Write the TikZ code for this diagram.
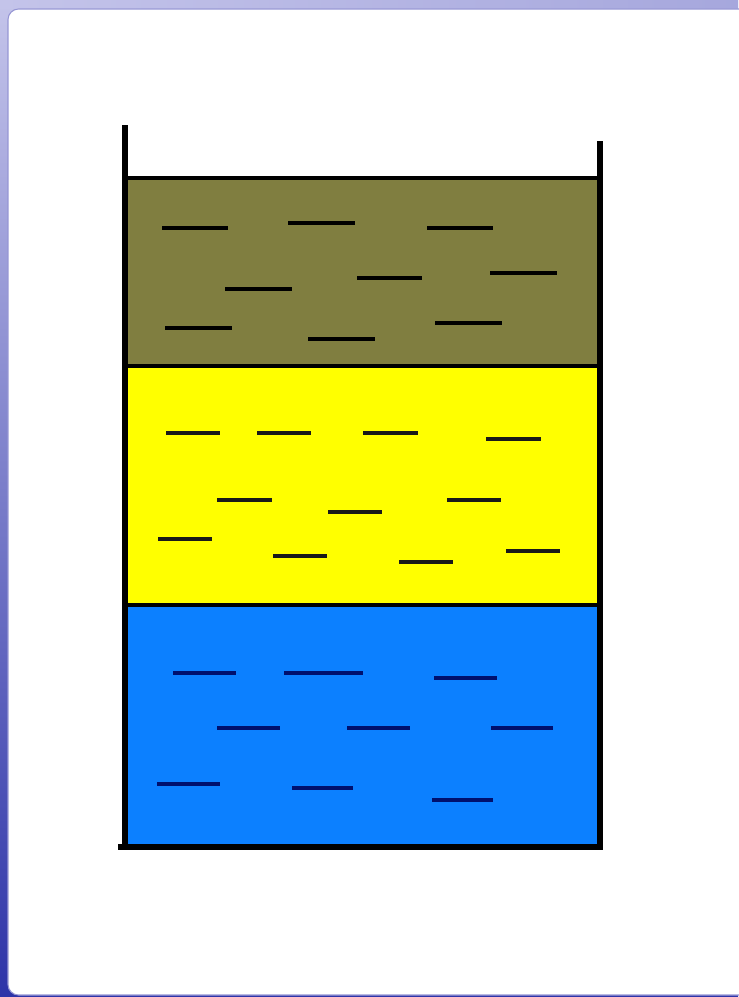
\documentclass[tikz,border=0pt]{standalone}
\usetikzlibrary{positioning}
\definecolor{slideblue}{RGB}{46,52,168}
\definecolor{slidelav}{RGB}{196,196,234}
\definecolor{panelrim}{RGB}{150,150,212}
\definecolor{mudcol}{RGB}{128,126,64}
\definecolor{oilcol}{RGB}{255,255,0}
\definecolor{watercol}{RGB}{12,128,255}
\definecolor{waterdash}{RGB}{0,16,110}

\begin{document}
\begin{tikzpicture}[
    x=0.02cm, y=-0.02cm,
    wall/.style={line width=2.9pt, line cap=rect},
    interface/.style={line width=1.8pt},
    ripple/.style={line width=2.1pt},
    layer/.style={draw=none}
]
\useasboundingbox (0,0) rectangle (738,997);
\shade[top color=slidelav, bottom color=slideblue] (0,0) rectangle (738,997);
\shade[left color=slidelav, right color=slidelav!80!slideblue] (0,0) rectangle (738,9);
\fill[white, draw=panelrim, line width=0.6pt, rounded corners=6] (8,9) rectangle (760,995);

\fill[layer, mudcol] (125,178) rectangle (600,366);
\fill[layer, oilcol] (125,366) rectangle (600,605);
\fill[layer, watercol] (125,605) rectangle (600,847);

\foreach \xa/\xb/\yy in {162/228/228, 288/355/223, 427/493/228, 490/557/273, 357/422/278,
    225/292/289, 165/232/328, 308/375/339, 435/502/323}
  \draw[ripple, black] (\xa,\yy) -- (\xb,\yy);
\foreach \xa/\xb/\yy in {166/220/433, 257/311/433, 363/418/433, 486/541/439, 217/272/500,
    447/501/500, 328/382/512, 158/212/539, 273/327/556, 399/453/562, 506/560/551}
  \draw[ripple, black!90] (\xa,\yy) -- (\xb,\yy);
\foreach \xa/\xb/\yy in {173/236/673, 284/363/673, 434/497/678, 217/280/728, 347/410/728,
    491/553/728, 157/220/784, 292/353/788, 432/493/800}
  \draw[ripple, waterdash] (\xa,\yy) -- (\xb,\yy);

\draw[interface] (125,178) -- (600,178);
\draw[interface] (125,366) -- (600,366);
\draw[interface] (125,605) -- (600,605);
\draw[wall] (125,128) -- (125,847);
\draw[wall] (600,144) -- (600,847);
\draw[line width=3.8pt] (118,847) -- (603,847);
\end{tikzpicture}
\end{document}
